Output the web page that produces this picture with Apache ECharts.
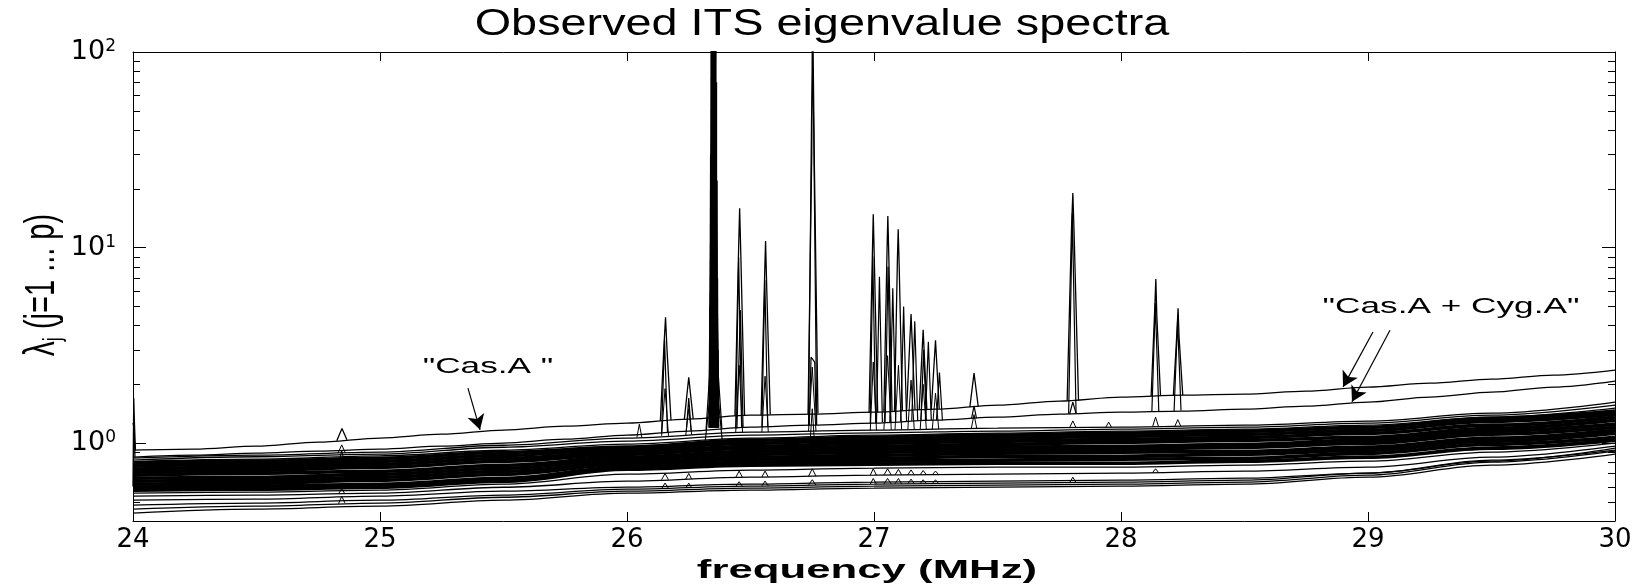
<!DOCTYPE html>
<html><head><meta charset="utf-8">
<script src="https://cdn.jsdelivr.net/npm/echarts@6.0.0/dist/echarts.min.js"></script>
<style>html,body{margin:0;padding:0;background:#fff}#c{width:1644px;height:587px}</style>
</head><body><div id="c"></div>
<script>
// ---------------- data ----------------
const xMin = 24, xMax = 30;
const yMin = 0.4, yMax = 100;
const yMinorTicks = [0.5,0.6,0.7,0.8,0.9,2,3,4,5,6,7,8,9,20,30,40,50,60,70,80,90];

const freqFine = [24.00,24.25,24.50,24.75,25.00,25.25,25.50,25.75,26.00,26.25,26.50,26.75,27.00,27.25,27.50,27.75,28.00,28.25,28.50,28.75,29.00,29.25,29.50,29.75,30.00];
const lambdaCasA = [0.921,0.932,0.965,1.012,1.061,1.112,1.166,1.222,1.266,1.327,1.390,1.407,1.440,1.492,1.564,1.640,1.719,1.760,1.781,1.845,1.934,2.027,2.125,2.228,2.362];
const lambdaCygA = [0.848,0.868,0.889,0.910,0.932,0.965,1.000,1.048,1.099,1.152,1.207,1.236,1.266,1.311,1.358,1.407,1.440,1.458,1.492,1.546,1.621,1.719,1.823,1.934,2.075];

const freqCoarse = [24.0,24.5,25.0,25.5,26.0,26.5,27.0,27.5,28.0,28.5,29.0,29.5,30.0];
const bandUpper1 = [0.838,0.868,0.900,0.976,1.061,1.138,1.165,1.193,1.207,1.236,1.296,1.424,1.621];
const bandUpper2 = [0.819,0.852,0.879,0.953,1.024,1.099,1.130,1.152,1.179,1.207,1.266,1.390,1.564];
const bandUpper3 = [0.805,0.828,0.862,0.920,0.988,1.061,1.099,1.125,1.152,1.179,1.236,1.358,1.510];
const core1  = [0.790,0.809,0.838,0.898,0.954,1.036,1.073,1.099,1.125,1.152,1.207,1.342,1.458];
const core2  = [0.763,0.781,0.809,0.867,0.932,1.000,1.036,1.061,1.086,1.112,1.165,1.296,1.407];
const core3  = [0.736,0.754,0.781,0.837,0.900,0.965,1.000,1.024,1.048,1.073,1.125,1.236,1.358];
const core4  = [0.711,0.728,0.754,0.808,0.879,0.943,0.965,0.988,1.012,1.036,1.073,1.193,1.311];
const core5  = [0.686,0.703,0.719,0.771,0.848,0.910,0.932,0.954,0.965,0.988,1.036,1.152,1.251];
const core6  = [0.662,0.670,0.694,0.744,0.828,0.879,0.900,0.921,0.932,0.954,1.000,1.112,1.207];
const core7  = [0.639,0.647,0.670,0.718,0.800,0.848,0.868,0.889,0.900,0.910,0.954,1.061,1.165];
const core8  = [0.617,0.625,0.647,0.693,0.781,0.828,0.838,0.858,0.858,0.879,0.921,1.024,1.125];
const core9  = [0.596,0.603,0.617,0.661,0.754,0.800,0.809,0.819,0.828,0.838,0.889,0.988,1.073];
const core10 = [0.575,0.582,0.596,0.639,0.736,0.772,0.781,0.790,0.790,0.809,0.848,0.943,1.036];
const bandLower1 = [0.555,0.562,0.575,0.617,0.694,0.728,0.745,0.754,0.754,0.772,0.809,0.900,1.000];
const bandLower2 = [0.536,0.542,0.555,0.595,0.639,0.670,0.686,0.694,0.703,0.719,0.754,0.848,0.965];
const bandLower3 = [0.511,0.517,0.536,0.568,0.596,0.617,0.632,0.639,0.647,0.662,0.703,0.809,0.943];
const lowest1 = [0.482,0.494,0.511,0.543,0.582,0.603,0.617,0.625,0.632,0.647,0.703,0.819,0.921];
const lowest2 = [0.460,0.476,0.494,0.529,0.568,0.589,0.603,0.610,0.617,0.632,0.686,0.800,0.910];
const lowest3 = [0.439,0.460,0.476,0.511,0.555,0.575,0.589,0.596,0.603,0.617,0.670,0.772,0.879];

// interference spikes: [frequency MHz, eigenvalue]
const spikeBig = [
  [[26.333,1.20],[26.337,5]],
  [[26.336,1.20],[26.340,30]],
  [[26.339,1.20],[26.342,110]],
  [[26.342,1.20],[26.344,200]],
  [[26.345,1.20],[26.347,200]],
  [[26.348,1.20],[26.350,200]],
  [[26.351,1.20],[26.353,200]],
  [[26.354,1.20],[26.356,200]],
  [[26.357,1.20],[26.359,200]],
  [[26.361,1.20],[26.361,70]],
  [[26.364,1.20],[26.363,22]],
  [[26.367,1.20],[26.365,7]],
  [[26.370,1.20],[26.367,3]]
];
const spikesMain = [
  [[24.000,0.60],[24.003,1.70],[24.006,1.25],[24.010,0.92]],
  [[24.000,1.27],[24.004,1.20],[24.008,0.85]],
  [[24.825,1.03],[24.846,1.19],[24.866,1.04]],
  [[26.135,1.30],[26.150,3.2],[26.156,4.4],[26.162,3.0],[26.178,1.31]],
  [[26.232,1.32],[26.250,2.17],[26.268,1.33]],
  [[26.437,1.38],[26.452,10],[26.456,15.9],[26.461,9],[26.476,1.38]],
  [[26.543,1.39],[26.557,7],[26.561,10.8],[26.566,6],[26.580,1.40]],
  [[26.733,1.41],[26.748,30],[26.751,200],[26.755,200],[26.758,30],[26.773,1.42]],
  [[26.980,1.43],[26.994,10],[26.997,14.8],[27.001,9],[27.015,1.44]],
  [[27.040,1.45],[27.053,10],[27.056,14.5],[27.060,9],[27.073,1.46]],
  [[27.083,1.46],[27.095,9],[27.098,12.4],[27.102,8],[27.115,1.47]],
  [[27.132,1.47],[27.150,4.57],[27.166,1.48]],
  [[27.183,1.48],[27.199,3.8],[27.214,1.49]],
  [[27.232,1.49],[27.249,3.36],[27.264,1.50]],
  [[27.388,1.53],[27.405,2.28],[27.422,1.54]],
  [[27.782,1.65],[27.800,13],[27.805,19.0],[27.810,12],[27.828,1.66]],
  [[28.122,1.74],[28.137,5],[28.141,6.9],[28.145,4.5],[28.160,1.745]],
  [[28.212,1.755],[28.227,3.8],[28.231,4.9],[28.235,3.5],[28.250,1.76]]
];
const spikesSecond = [
  [[26.140,1.12],[26.152,3.4],[26.164,1.13]],
  [[26.240,1.15],[26.250,1.7],[26.260,1.15]],
  [[26.320,1.17],[26.334,2.2],[26.342,40],[26.350,200]],
  [[26.350,200],[26.360,45],[26.368,2.4],[26.384,1.19]],
  [[26.310,0.85],[26.333,1.6],[26.338,6]],
  [[26.364,6],[26.371,1.6],[26.392,0.85]],
  [[26.440,1.19],[26.452,8.9],[26.464,1.20]],
  [[26.445,1.19],[26.459,4.8],[26.470,1.20]],
  [[26.546,1.21],[26.558,6.8],[26.570,1.22]],
  [[26.735,1.23],[26.747,46],[26.752,84],[26.756,40],[26.768,1.24]],
  [[26.738,1.23],[26.745,2.75],[26.760,2.6],[26.766,1.24]],
  [[26.985,1.26],[26.995,9.0],[27.007,1.27]],
  [[27.010,1.27],[27.022,7.1],[27.034,1.28]],
  [[27.045,1.28],[27.057,8.0],[27.068,1.28]],
  [[27.064,1.28],[27.076,6.2],[27.088,1.29]],
  [[27.108,1.29],[27.120,5.0],[27.132,1.29]],
  [[27.153,1.30],[27.165,4.2],[27.177,1.30]],
  [[27.190,1.30],[27.201,3.0],[27.212,1.30]],
  [[27.208,1.30],[27.220,3.3],[27.232,1.31]],
  [[27.253,1.31],[27.265,2.3],[27.277,1.31]],
  [[27.395,1.34],[27.405,1.55],[27.415,1.34]],
  [[27.788,1.41],[27.803,15],[27.818,1.42]],
  [[27.792,1.41],[27.805,1.62],[27.818,1.42]],
  [[28.125,1.45],[28.139,5.2],[28.153,1.46]],
  [[28.215,1.46],[28.229,4.2],[28.243,1.47]]
];
const spikesBand = [
  [[24.830,0.89],[24.845,0.98],[24.860,0.89]],
  [[24.835,0.80],[24.845,0.92],[24.855,0.80]],
  [[26.040,1.07],[26.050,1.25],[26.060,1.07]],
  [[26.140,1.09],[26.154,1.9],[26.168,1.09]],
  [[26.238,1.10],[26.250,1.5],[26.262,1.10]],
  [[26.440,1.13],[26.454,2.5],[26.468,1.13]],
  [[26.546,1.14],[26.559,2.2],[26.572,1.14]],
  [[26.735,1.15],[26.750,2.45],[26.765,1.15]],
  [[26.740,0.95],[26.750,1.5],[26.760,0.95]],
  [[26.985,1.16],[26.997,2.6],[27.010,1.16]],
  [[27.040,1.17],[27.055,2.8],[27.070,1.17]],
  [[27.085,1.17],[27.099,2.5],[27.112,1.17]],
  [[27.137,1.175],[27.150,2.1],[27.163,1.175]],
  [[27.187,1.176],[27.199,2.0],[27.212,1.176]],
  [[27.236,1.18],[27.249,1.8],[27.262,1.18]],
  [[27.394,1.19],[27.405,1.4],[27.416,1.19]],
  [[27.792,1.20],[27.805,1.30],[27.818,1.20]],
  [[27.938,1.205],[27.950,1.28],[27.962,1.205]],
  [[28.128,1.215],[28.140,1.36],[28.152,1.215]],
  [[28.218,1.22],[28.230,1.32],[28.242,1.22]],
  [[24.832,0.55],[24.845,0.585],[24.858,0.55]],
  [[24.832,0.49],[24.845,0.535],[24.858,0.495]],
  [[26.140,0.65],[26.154,0.70],[26.168,0.65]],
  [[26.140,0.585],[26.154,0.625],[26.168,0.587]],
  [[26.238,0.655],[26.250,0.70],[26.262,0.655]],
  [[26.238,0.59],[26.250,0.625],[26.262,0.592]],
  [[26.440,0.667],[26.454,0.72],[26.468,0.667]],
  [[26.440,0.60],[26.454,0.635],[26.468,0.60]],
  [[26.546,0.672],[26.559,0.72],[26.572,0.672]],
  [[26.546,0.605],[26.559,0.64],[26.572,0.605]],
  [[26.735,0.678],[26.750,0.74],[26.765,0.678]],
  [[26.735,0.61],[26.750,0.65],[26.765,0.61]],
  [[26.985,0.617],[26.997,0.66],[27.010,0.617]],
  [[27.040,0.618],[27.055,0.66],[27.070,0.618]],
  [[27.085,0.619],[27.099,0.66],[27.112,0.619]],
  [[27.137,0.62],[27.150,0.655],[27.163,0.62]],
  [[27.187,0.62],[27.199,0.65],[27.212,0.62]],
  [[27.236,0.621],[27.249,0.65],[27.262,0.621]],
  [[26.985,0.686],[26.997,0.74],[27.010,0.686]],
  [[27.040,0.687],[27.055,0.74],[27.070,0.687]],
  [[27.085,0.688],[27.099,0.735],[27.112,0.688]],
  [[27.137,0.689],[27.150,0.73],[27.163,0.689]],
  [[27.187,0.69],[27.199,0.725],[27.212,0.69]],
  [[27.236,0.69],[27.249,0.72],[27.262,0.69]],
  [[27.792,0.628],[27.805,0.67],[27.818,0.628]],
  [[28.128,0.708],[28.140,0.74],[28.152,0.708]]
];

// annotation arrows: [start, end] in [MHz, eigenvalue]
const arrowCasA = [[25.356,1.91],[25.405,1.17]];
const arrowCasCyg1 = [[29.020,3.70],[28.899,1.94]];
const arrowCasCyg2 = [[29.089,3.78],[28.935,1.63]];

// ---------------- chart ----------------
const zip = (fs, vs) => fs.map((f, i) => [f, vs[i]]);
const FONT = '"Liberation Sans", Arial, sans-serif';

function lineSeries(data, width, z, smooth) {
  return { type: 'line', data: data, showSymbol: false, symbol: 'none', silent: true,
    animation: false, z: z, clip: true, smooth: smooth || false, smoothMonotone: 'x',
    lineStyle: { color: '#000', width: width } };
}

const series = [];
[lowest1, lowest2, lowest3, bandLower1, bandLower2, bandLower3, bandUpper1, bandUpper2, bandUpper3]
  .forEach(a => series.push(lineSeries(zip(freqCoarse, a), 1.3, 2, 0.35)));
[core1, core2, core3, core4, core5, core6, core7, core8, core9, core10]
  .forEach(a => series.push(lineSeries(zip(freqCoarse, a), 3.6, 2, 0.35)));
series.push(lineSeries(zip(freqFine, lambdaCygA), 1.2, 3, 0.3));
const casSeries = lineSeries(zip(freqFine, lambdaCasA), 1.2, 3, 0.3);
const arrowItem = a => [{ coord: a[0] }, { coord: a[1] }];
casSeries.markLine = {
  silent: true, animation: false, symbol: ['none', 'arrow'], symbolSize: [13, 15],
  label: { show: false }, lineStyle: { color: '#000', width: 1.2, type: 'solid' },
  data: [arrowItem(arrowCasA), arrowItem(arrowCasCyg1), arrowItem(arrowCasCyg2)]
};
series.push(casSeries);
spikesBand.forEach(p => series.push(lineSeries(p, 1, 4)));
spikesSecond.forEach(p => series.push(lineSeries(p, 1.2, 5)));
spikesMain.forEach(p => series.push(lineSeries(p, 1.3, 6)));
spikeBig.forEach(p => series.push(lineSeries(p, 2, 6)));

// minor log ticks on both vertical box edges
series.push({
  type: 'custom', silent: true, animation: false, z: 10, clip: false,
  data: yMinorTicks.map(v => [xMin, v]),
  renderItem: (params, api) => {
    const v = api.value(1);
    const pl = api.coord([xMin, v]);
    const pr = api.coord([xMax, v]);
    const y = Math.round(pl[1]) + 0.5;
    return { type: 'group', children: [
      { type: 'line', shape: { x1: pl[0], y1: y, x2: pl[0] + 7, y2: y }, style: { stroke: '#000', lineWidth: 1 } },
      { type: 'line', shape: { x1: pr[0] - 7, y1: y, x2: pr[0], y2: y }, style: { stroke: '#000', lineWidth: 1 } }
    ] };
  }
});

const axisLine = { show: true, onZero: false, lineStyle: { color: '#000', width: 1 } };
const option = {
  animation: false,
  backgroundColor: '#fff',
  grid: { left: 133, top: 52, width: 1482, height: 469, containLabel: false },
  xAxis: [
    { type: 'value', min: xMin, max: xMax, interval: 1, position: 'bottom',
      axisLine: axisLine, splitLine: { show: false },
      axisTick: { show: true, inside: true, length: 9, lineStyle: { color: '#000' } },
      axisLabel: { color: '#000', fontFamily: 'DejaVu Sans', fontSize: 26, margin: 6 } },
    { type: 'value', min: xMin, max: xMax, interval: 1, position: 'top',
      axisLine: axisLine, splitLine: { show: false },
      axisTick: { show: true, inside: true, length: 9, lineStyle: { color: '#000' } },
      axisLabel: { show: false } }
  ],
  yAxis: [
    { type: 'log', logBase: 10, min: yMin, max: yMax, position: 'left',
      axisLine: axisLine, splitLine: { show: false }, minorTick: { show: false },
      axisTick: { show: true, inside: true, length: 13, lineStyle: { color: '#000' } },
      axisLabel: { color: '#000', margin: 17,
        formatter: v => {
          const l = Math.log10(v), e = Math.round(l);
          if (Math.abs(l - e) > 1e-6) return '';
          return '{b|10}{s|' + e + '}';
        },
        rich: {
          b: { fontFamily: 'DejaVu Sans', fontSize: 27, color: '#000', lineHeight: 28 },
          s: { fontFamily: 'DejaVu Sans', fontSize: 17, color: '#000', verticalAlign: 'top', lineHeight: 12 }
        } } },
    { type: 'log', logBase: 10, min: yMin, max: yMax, position: 'right',
      axisLine: axisLine, splitLine: { show: false },
      axisTick: { show: true, inside: true, length: 13, lineStyle: { color: '#000' } },
      axisLabel: { show: false } }
  ],
  graphic: [
    { type: 'text', x: 822, y: 25, scaleX: 1.3, silent: true,
      style: { text: 'Observed ITS eigenvalue spectra', font: '36px ' + FONT, fill: '#000',
        align: 'center', verticalAlign: 'middle', textAlign: 'center', textVerticalAlign: 'middle' } },
    { type: 'text', x: 867, y: 571, scaleX: 1.75, silent: true,
      style: { text: 'frequency (MHz)', font: 'bold 25px ' + FONT, fill: '#000',
        align: 'center', verticalAlign: 'middle', textAlign: 'center', textVerticalAlign: 'middle' } },
    { type: 'text', x: 42, y: 285, rotation: Math.PI / 2, scaleY: 1.45, silent: true,
      style: { text: '{l|λ}{j|j} (j=1 ... p)', font: '29px ' + FONT, fill: '#000',
        align: 'center', verticalAlign: 'middle', textAlign: 'center', textVerticalAlign: 'middle',
        rich: {
          l: { fontFamily: FONT, fontSize: 30, lineHeight: 34 },
          j: { fontFamily: FONT, fontSize: 18, lineHeight: 18, verticalAlign: 'bottom' }
        } } },
    { type: 'text', x: 488, y: 367, scaleX: 1.6, silent: true,
      style: { text: '"Cas.A "', font: '22px ' + FONT, fill: '#000',
        align: 'center', verticalAlign: 'middle', textAlign: 'center', textVerticalAlign: 'middle' } },
    { type: 'text', x: 1451, y: 307, scaleX: 1.6, silent: true,
      style: { text: '"Cas.A + Cyg.A"', font: '22px ' + FONT, fill: '#000',
        align: 'center', verticalAlign: 'middle', textAlign: 'center', textVerticalAlign: 'middle' } }
  ],
  series: series
};

const chart = echarts.init(document.getElementById('c'), null, { renderer: 'canvas' });
chart.setOption(option);
</script>
</body></html>
